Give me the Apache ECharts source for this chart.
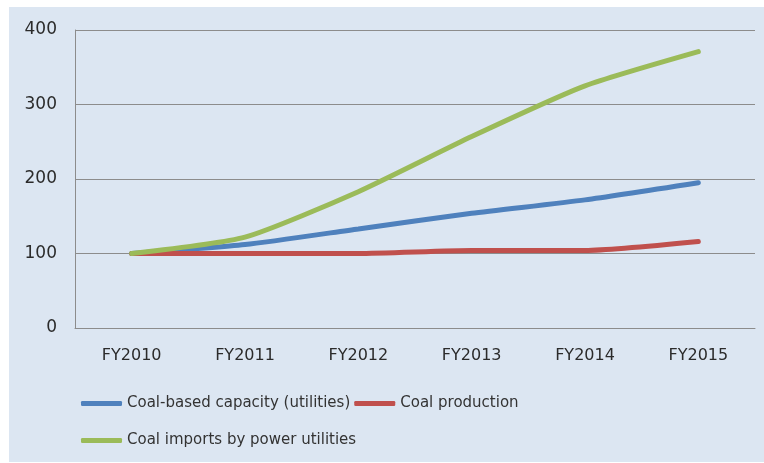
<!DOCTYPE html>
<html>
<head>
<meta charset="utf-8">
<script src="https://cdn.jsdelivr.net/npm/echarts@6/dist/echarts.min.js"></script>
<style>
  html, body { margin: 0; padding: 0; background: #ffffff; }
  #mainChart { position: absolute; left: 9px; top: 7px; width: 755px; height: 455px; background: #dce6f2; }
</style>
</head>
<body>
<div id="mainChart"></div>
<script>
var years = ["FY2010", "FY2011", "FY2012", "FY2013", "FY2014", "FY2015"];
var capacity = [100, 112, 133, 154, 172, 195];
var production = [100, 100, 100, 104, 104, 116];
var imports = [100, 122, 183, 257, 325, 371];
var yTicks = [0, 100, 200, 300, 400];

var chart = echarts.init(document.getElementById("mainChart"));
var font = "DejaVu Sans";
var legendText = { fontFamily: font, fontSize: 15, color: "#333333" };

function lineSeries(name, color, data) {
  return {
    name: name,
    type: "line",
    data: data,
    smooth: 0.2,
    symbol: "none",
    lineStyle: { color: color, width: 5, cap: "round" },
    itemStyle: { color: color },
    animation: false,
  };
}

var option = {
  grid: { left: 66, right: 9, top: 23, bottom: 134 },
  legend: [
    {
      data: ["Coal-based capacity (utilities)", "Coal production"],
      left: 67, top: 384,
      icon: "roundRect", itemWidth: 41, itemHeight: 5, itemGap: 4,
      textStyle: legendText,
    },
    {
      data: ["Coal imports by power utilities"],
      left: 67, top: 421,
      icon: "roundRect", itemWidth: 41, itemHeight: 5,
      textStyle: legendText,
    },
  ],
  xAxis: {
    type: "category",
    data: years,
    boundaryGap: true,
    axisLine: { lineStyle: { color: "#8c8c8c", width: 1 } },
    axisTick: { show: false },
    axisLabel: { fontFamily: font, fontSize: 16, color: "#2b2b2b", margin: 20 },
  },
  yAxis: {
    type: "value",
    min: yTicks[0],
    max: yTicks[yTicks.length - 1],
    interval: 100,
    axisLine: { show: true, lineStyle: { color: "#8c8c8c", width: 1 } },
    axisTick: { show: false },
    splitLine: { lineStyle: { color: "#8c8c8c", width: 1 } },
    axisLabel: { fontFamily: font, fontSize: 17, color: "#2b2b2b", margin: 18 },
  },
  series: [
    lineSeries("Coal-based capacity (utilities)", "#4f81bd", capacity),
    lineSeries("Coal production", "#c0504d", production),
    lineSeries("Coal imports by power utilities", "#9bbb59", imports),
  ],
};
chart.setOption(option);
</script>
</body>
</html>
